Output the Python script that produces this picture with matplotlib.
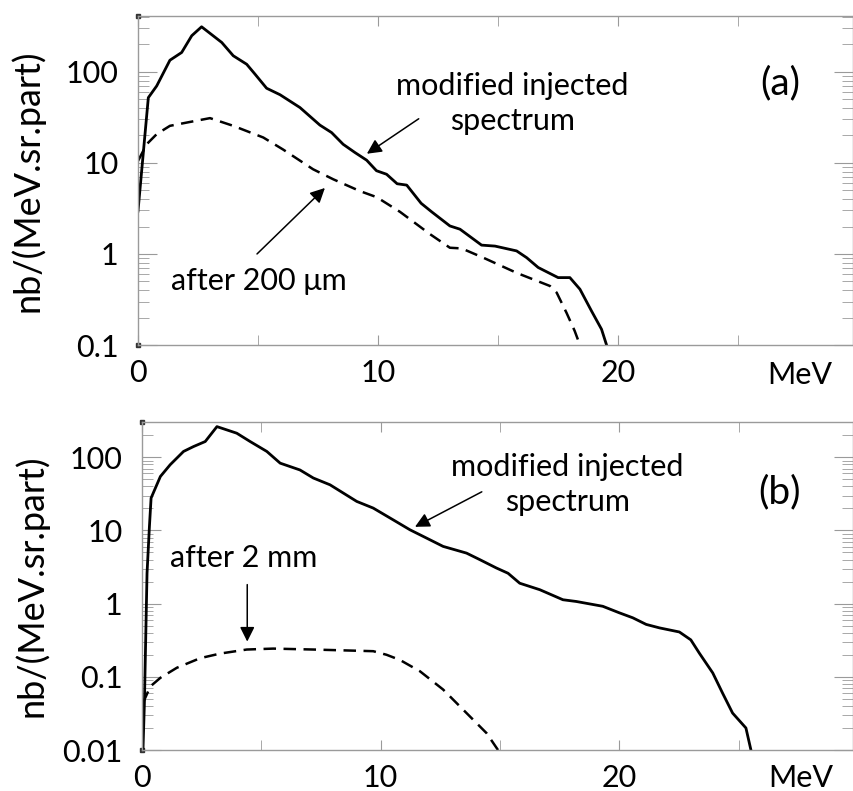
import matplotlib
matplotlib.use("Agg")
import matplotlib.pyplot as plt
from matplotlib.ticker import LogLocator, FixedLocator, NullFormatter

plt.rcParams['font.family'] = ['Lato', 'DejaVu Sans']

# (a) spectra, MeV vs nb/(MeV.sr.part)
a_inj_E = [0.0, 0.43, 0.78, 1.33, 1.82, 2.24, 2.65, 3.49, 3.97, 4.53, 4.88, 5.36, 5.92,
           6.75, 7.58, 8.07, 8.55, 9.04, 9.53, 9.94, 10.36, 10.8, 11.2, 11.8, 12.24, 13.0,
           13.42, 14.32, 14.88, 15.78, 16.2, 16.68, 17.51, 18.0, 18.42, 18.9, 19.32, 19.53]
a_inj_N = [2.96, 52, 70, 134, 163, 249, 312, 210, 150, 121, 94, 66, 56,
           40.5, 26, 21.5, 16, 13, 10.7, 8.2, 7.5, 5.9, 5.7, 3.6, 2.9, 2.03,
           1.87, 1.25, 1.22, 1.08, 0.91, 0.71, 0.55, 0.55, 0.41, 0.237, 0.149, 0.1]
a_200um_E = [0.0, 0.36, 0.78, 1.33, 2.03, 3.0, 3.97, 5.22, 6.05, 7.3, 8.14, 9.25, 9.95,
             10.92, 12.17, 13.0, 13.49, 14.39, 15.78, 17.17, 17.45, 17.86, 18.2, 18.42]
a_200um_N = [10.5, 16, 20.7, 25.5, 27.7, 31, 25.5, 19, 14, 8.5, 6.6, 4.9, 4.2,
             2.9, 1.65, 1.17, 1.15, 0.91, 0.62, 0.445, 0.376, 0.226, 0.143, 0.1]

# (b) spectra
b_inj_E = [0.04, 0.1, 0.21, 0.31, 0.38, 0.77, 1.18, 1.74, 2.16, 2.65, 3.14, 3.97, 4.53,
           5.23, 5.79, 6.62, 7.18, 7.88, 9.0, 9.69, 10.6, 11.23, 11.78, 12.62, 13.6, 14.15,
           14.85, 15.34, 15.83, 16.67, 17.64, 18.2, 19.31, 20.0, 20.57, 21.13, 21.69, 22.52,
           23.0, 23.36, 23.92, 24.33, 24.75, 25.31, 25.52]
b_inj_N = [0.01, 0.044, 2.6, 11.3, 27.7, 54.6, 79, 120, 140, 164, 262, 213, 164,
           120, 83, 67, 52, 42, 24.9, 20.2, 13.5, 10.2, 8.3, 6.05, 4.9, 4.0,
           3.07, 2.6, 1.9, 1.55, 1.13, 1.07, 0.92, 0.75, 0.64, 0.52, 0.466, 0.41,
           0.32, 0.21, 0.113, 0.06, 0.032, 0.020, 0.01]
b_2mm_E = [0.04, 0.35, 0.77, 1.46, 2.44, 3.28, 4.39, 5.5, 7.18, 9.69, 10.25, 10.81,
           11.65, 12.62, 13.6, 14.44, 14.92]
b_2mm_N = [0.044, 0.074, 0.097, 0.133, 0.18, 0.208, 0.236, 0.243, 0.236, 0.224, 0.2, 0.17,
           0.119, 0.067, 0.032, 0.017, 0.01]

ylabel = "nb/(MeV.sr.part)"
gray = "#9a9a9a"

fig = plt.figure(figsize=(8.54, 7.91), dpi=100)
ax1 = fig.add_axes([0.1616, 0.5638, 0.8372, 0.4166])
ax2 = fig.add_axes([0.1663, 0.0518, 0.8326, 0.4151])


def style(ax, ymin, ymax, yticks, ylabs, mev_y):
    ax.set_yscale('log')
    ax.set_xlim(0, 29.8)
    ax.set_ylim(ymin, ymax)
    ax.xaxis.set_major_locator(FixedLocator([0, 10, 20]))
    ax.xaxis.set_minor_locator(FixedLocator([5, 15, 25]))
    ax.set_xticklabels(['0', '10', '20'])
    ax.set_yticks(yticks)
    ax.set_yticklabels(ylabs)
    ax.yaxis.set_minor_locator(LogLocator(base=10, subs=range(2, 10), numticks=20))
    ax.yaxis.set_minor_formatter(NullFormatter())
    for s in ax.spines.values():
        s.set_color(gray)
        s.set_linewidth(1.0)
    ax.tick_params(axis='both', which='both', direction='in', color=gray,
                   top=True, right=True, labelsize=22)
    ax.tick_params(axis='x', which='both', length=7, pad=10)
    ax.tick_params(axis='y', which='major', length=14, pad=14)
    ax.tick_params(axis='y', which='minor', length=8)
    ax.set_ylabel(ylabel, fontsize=26)
    ax.yaxis.set_label_coords(-0.131, 0.5)
    ax.text(27.6, mev_y, "MeV", transform=ax.get_xaxis_transform(),
            fontsize=22, ha='center', va='center')
    # small dark squares at the left corners
    ax.plot([0, 0], [ymin, ymax], ls='none', marker='s', ms=3, color='#333333',
            clip_on=False)


style(ax1, 0.1, 415, [0.1, 1, 10, 100], ['0.1', '1', '10', '100'], -0.092)
style(ax2, 0.01, 306, [0.01, 0.1, 1, 10, 100], ['0.01', '0.1', '1', '10', '100'], -0.086)

ax1.plot(a_inj_E, a_inj_N, color='k', lw=2.0)
ax1.plot(a_200um_E, a_200um_N, color='k', lw=1.8, ls=(0, (5, 3)))
ax2.plot(b_inj_E, b_inj_N, color='k', lw=2.0)
ax2.plot(b_2mm_E, b_2mm_N, color='k', lw=1.8, ls=(0, (5, 3)))

arrow = dict(arrowstyle='-|>', color='k', lw=1.1, mutation_scale=22,
             shrinkA=0, shrinkB=0)

ax1.text(15.6, 45, "modified injected\nspectrum", fontsize=22, ha='center',
         va='center', linespacing=1.3)
ax1.annotate('', xy=(9.54, 12.6), xytext=(11.7, 30.5), arrowprops=arrow)
ax1.text(26.75, 74, "(a)", fontsize=28, ha='center', va='center')
ax1.text(5.04, 0.5, "after 200 \u03bcm", fontsize=22, ha='center', va='center')
ax1.annotate('', xy=(7.79, 5.3), xytext=(4.96, 1.0), arrowprops=arrow)

ax2.text(17.84, 43, "modified injected\nspectrum", fontsize=22, ha='center',
         va='center', linespacing=1.3)
ax2.annotate('', xy=(11.44, 11.2), xytext=(14.24, 33.7), arrowprops=arrow)
ax2.text(26.7, 32.7, "(b)", fontsize=28, ha='center', va='center')
ax2.text(4.28, 4.24, "after 2 mm", fontsize=22, ha='center', va='center')
ax2.annotate('', xy=(4.41, 0.303), xytext=(4.41, 1.82), arrowprops=arrow)

fig.savefig("out.png", dpi=100)
